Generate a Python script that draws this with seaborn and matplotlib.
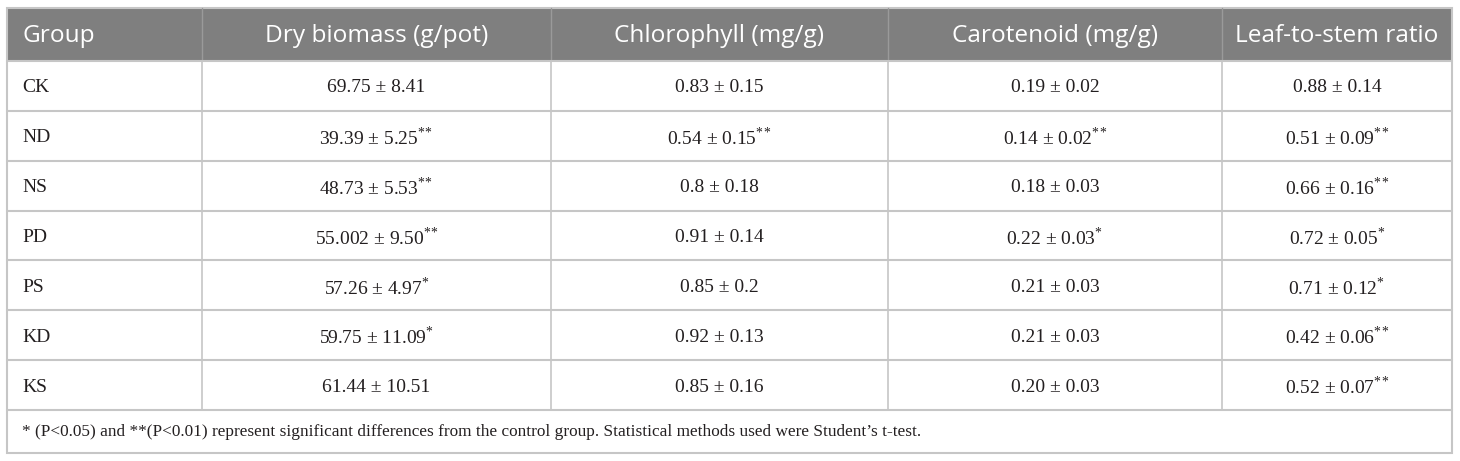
import seaborn as sns
import matplotlib.pyplot as plt
from matplotlib.patches import Rectangle

# table content
columns = ["Group", "Dry biomass (g/pot)", "Chlorophyll (mg/g)", "Carotenoid (mg/g)", "Leaf-to-stem ratio"]
groups = ["CK", "ND", "NS", "PD", "PS", "KD", "KS"]
dry_biomass = ["69.75 ± 8.41", "39.39 ± 5.25**", "48.73 ± 5.53**", "55.002 ± 9.50**",
               "57.26 ± 4.97*", "59.75 ± 11.09*", "61.44 ± 10.51"]
chlorophyll = ["0.83 ± 0.15", "0.54 ± 0.15**", "0.8 ± 0.18", "0.91 ± 0.14",
               "0.85 ± 0.2", "0.92 ± 0.13", "0.85 ± 0.16"]
carotenoid = ["0.19 ± 0.02", "0.14 ± 0.02**", "0.18 ± 0.03", "0.22 ± 0.03*",
              "0.21 ± 0.03", "0.21 ± 0.03", "0.20 ± 0.03"]
leaf_stem = ["0.88 ± 0.14", "0.51 ± 0.09**", "0.66 ± 0.16**", "0.72 ± 0.05*",
             "0.71 ± 0.12*", "0.42 ± 0.06**", "0.52 ± 0.07**"]
footnote = ("* (P<0.05) and **(P<0.01) represent significant differences from the control group. "
            "Statistical methods used were Student\u2019s t-test.")

sns.set_theme(style="white")
plt.rcParams["mathtext.fontset"] = "custom"
plt.rcParams["mathtext.rm"] = "Liberation Serif"

# layout in pixel units
col_edges = [7, 202, 551, 888, 1222, 1452]
top, head_bottom, row_h = 8, 61, 49.85
body_bottom = head_bottom + row_h * len(groups)
foot_bottom = 453
line_col = "#c6c6c6"
head_col = "#7f7f7f"
txt_col = "#231f20"

fig = plt.figure(figsize=(14.6, 4.61), dpi=100)
ax = fig.add_axes([0, 0, 1, 1])
ax.set_xlim(0, 1460)
ax.set_ylim(461, 0)
ax.axis("off")

# header background
ax.add_patch(Rectangle((col_edges[0], top), col_edges[-1] - col_edges[0], head_bottom - top,
                       facecolor=head_col, edgecolor="none"))

# grid lines
for x in col_edges[1:-1]:
    ax.plot([x, x], [top, head_bottom], color="#9a9a9a", lw=1)
    ax.plot([x, x], [head_bottom, body_bottom], color=line_col, lw=1.2)
for i in range(len(groups) + 1):
    y = head_bottom + i * row_h
    ax.plot([col_edges[0], col_edges[-1]], [y, y], color=line_col, lw=1.5)
ax.add_patch(Rectangle((col_edges[0], top), col_edges[-1] - col_edges[0], foot_bottom - top,
                       facecolor="none", edgecolor=line_col, lw=1.5))


def star(s):
    base = s.rstrip("*")
    n = len(s) - len(base)
    return base + (r"$^{\mathrm{" + r"*\!" * (n - 1) + "*}}$" if n else "")


# header text
head_y = (top + head_bottom) / 2 + 1
for j, name in enumerate(columns):
    if j == 0:
        ax.text(22, head_y, name, ha="left", va="center", color="white",
                fontsize=17.6, family="Open Sans")
    else:
        cx = (col_edges[j] + col_edges[j + 1]) / 2
        ax.text(cx, head_y, name, ha="center", va="center", color="white",
                fontsize=17.6, family="Open Sans")

# body text
table_cols = [dry_biomass, chlorophyll, carotenoid, leaf_stem]
for i, g in enumerate(groups):
    y = head_bottom + (i + 0.5) * row_h + 2
    ax.text(22, y, g, ha="left", va="center", fontsize=14, family="Liberation Serif", color=txt_col)
    for j, vals in enumerate(table_cols):
        cx = (col_edges[j + 1] + col_edges[j + 2]) / 2
        ax.text(cx, y, star(vals[i]), ha="center", va="center", fontsize=14,
                family="Liberation Serif", color=txt_col)

ax.text(22, (body_bottom + foot_bottom) / 2 + 1, footnote, ha="left", va="center",
        fontsize=12.4, family="Liberation Serif", color=txt_col)

fig.savefig("out.png", dpi=100, facecolor="white")
